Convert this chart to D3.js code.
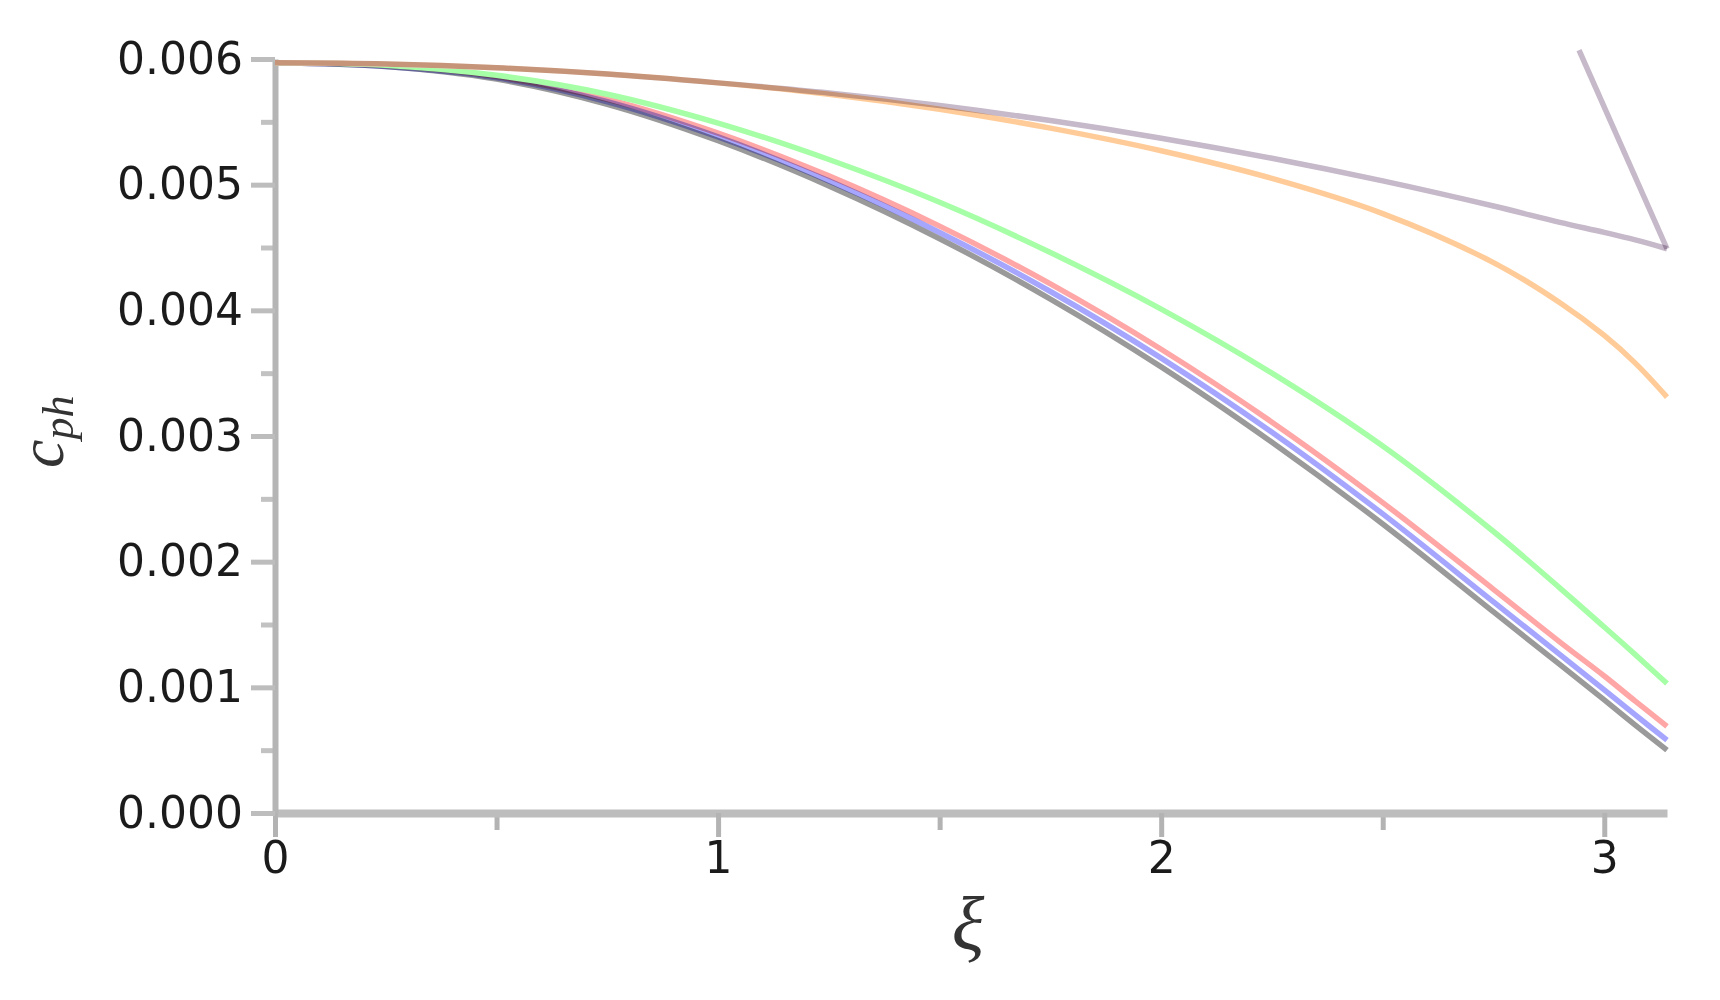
<!DOCTYPE html>
<html>
<head>
<meta charset="utf-8">
<script src="https://cdn.jsdelivr.net/npm/d3@7"></script>
<style>
  html, body { margin: 0; padding: 0; background: #ffffff; }
  svg { display: block; }
</style>
</head>
<body>
<svg id="chart" width="1720" height="1000"></svg>
<script>
// ---- data ----
const PI = Math.PI;
const xi = [0, 0.25, 0.5, 0.75, 1, 1.25, 1.5, 1.75, 2, 2.25, 2.5, 2.75, 2.9, 3, 3.07, PI];

const grayVals   = [0.00597,0.00594,0.00584,0.00564,0.00535,0.00499,0.00457,0.00409,0.00355,0.00295,0.00230,0.00160,0.00118,0.00090,0.00070,0.00050];
const blueVals   = [0.00597,0.00594,0.00585,0.00566,0.00538,0.00503,0.00462,0.00415,0.00362,0.00303,0.00238,0.00168,0.00126,0.00098,0.00078,0.00058];
const redVals    = [0.00597,0.00595,0.00586,0.00568,0.00541,0.00507,0.00467,0.00421,0.00369,0.00311,0.00247,0.00178,0.00136,0.00109,0.00089,0.00069];
const greenVals  = [0.00597,0.00595,0.00587,0.00572,0.00549,0.00520,0.00486,0.00446,0.00401,0.00350,0.00292,0.00224,0.00179,0.00148,0.00126,0.00103];
const orangeVals = [0.00597,0.00596,0.00593,0.00588,0.00581,0.00572,0.00560,0.00545,0.00527,0.00505,0.00477,0.00438,0.00406,0.00380,0.00358,0.00331];
const mauveVals  = [0.00597,0.00596,0.00593,0.00588,0.00581,0.00573,0.00563,0.00551,0.00537,0.00521,0.00503,0.00483,0.00470,0.00462,0.00456,0.00449];
// the mauve curve's closing stroke back up at the right edge
const mauveTailXi   = [PI, 2.943];
const mauveTailVals = [0.00449, 0.00607];

const seriesNames  = ["gray", "blue", "red", "green", "mauve", "orange"];
const seriesColors = ["#9a9a9a", "#a6a6ff", "#ffa6a6", "#a6ffa6", "#c6b9c9", "#ffcc99"];
const seriesVals   = [grayVals, blueVals, redVals, greenVals, mauveVals, orangeVals];
const seriesGroup  = [0, 0, 0, 1, 2, 2];   // overlap groups (lines in a group darken where they cross)

const xMajorTicks = [0, 1, 2, 3];
const xMinorTicks = [0.5, 1.5, 2.5];
const yMajorTicks = [0, 0.001, 0.002, 0.003, 0.004, 0.005, 0.006];
const yMinorTicks = [0.0005, 0.0015, 0.0025, 0.0035, 0.0045, 0.0055];
const yTickLabels = ["0.000", "0.001", "0.002", "0.003", "0.004", "0.005", "0.006"];
const xTickLabels = ["0", "1", "2", "3"];

// ---- drawing ----
const svg = d3.select("#chart");
const x = d3.scaleLinear().domain([0, PI]).range([275, 1667]);
const y = d3.scaleLinear().domain([0, 0.006]).range([813, 59]);

const tickFont = "'DejaVu Sans', Verdana, sans-serif";

// minor ticks
const gxMinor = svg.append("g").attr("transform", `translate(0,${y(0)})`)
  .call(d3.axisBottom(x).tickValues(xMinorTicks).tickFormat("").tickSize(17).tickSizeOuter(0));
gxMinor.select(".domain").remove();
gxMinor.selectAll("line").attr("stroke", "#b3b3b3").attr("stroke-width", 5);

const gyMinor = svg.append("g").attr("transform", `translate(${x(0)},0)`)
  .call(d3.axisLeft(y).tickValues(yMinorTicks).tickFormat("").tickSize(14).tickSizeOuter(0));
gyMinor.select(".domain").remove();
gyMinor.selectAll("line").attr("stroke", "#c2c2c2").attr("stroke-width", 5);

// major axes
const gx = svg.append("g").attr("transform", `translate(0,${y(0)})`)
  .call(d3.axisBottom(x).tickValues(xMajorTicks)
        .tickFormat((d, i) => xTickLabels[i]).tickSize(24).tickSizeOuter(0).tickPadding(5));
gx.select(".domain").attr("stroke", "#bdbdbd").attr("stroke-width", 8);
gx.selectAll(".tick line").attr("stroke", "#b3b3b3").attr("stroke-width", 5);
gx.selectAll(".tick text").attr("font-family", tickFont).attr("font-size", 44).attr("fill", "#1b1b1b");

const gy = svg.append("g").attr("transform", `translate(${x(0)},0)`)
  .call(d3.axisLeft(y).tickValues(yMajorTicks)
        .tickFormat((d, i) => yTickLabels[i]).tickSize(24).tickSizeOuter(0).tickPadding(8));
gy.select(".domain").attr("stroke", "#b5b5b5").attr("stroke-width", 6);
gy.selectAll(".tick line").attr("stroke", "#bdbdbd").attr("stroke-width", 5);
gy.selectAll(".tick text").attr("font-family", tickFont).attr("font-size", 44).attr("fill", "#1b1b1b");

// curves
const line = d3.line()
  .x(d => x(d[0]))
  .y(d => y(d[1]))
  .curve(d3.curveCatmullRom.alpha(0.5));
const straight = d3.line().x(d => x(d[0])).y(d => y(d[1]));

const groups = [0, 1, 2].map(() => svg.append("g").style("isolation", "isolate"));
seriesVals.forEach((vals, i) => {
  const pts = xi.map((v, k) => [v, vals[k]]);
  groups[seriesGroup[i]].append("path")
    .attr("d", line(pts))
    .attr("fill", "none")
    .attr("stroke", seriesColors[i])
    .attr("stroke-width", 5.5)
    .style("mix-blend-mode", "multiply")
    .attr("class", "series-" + seriesNames[i]);
});
groups[2].append("path")
  .attr("d", straight(mauveTailXi.map((v, k) => [v, mauveTailVals[k]])))
  .attr("fill", "none")
  .attr("stroke", seriesColors[4])
  .attr("stroke-width", 5.5)
  .style("mix-blend-mode", "multiply");

// axis titles
const yTitle = svg.append("text")
  .attr("transform", "translate(63,468) rotate(-90)")
  .attr("font-family", "'Liberation Serif', 'Times New Roman', serif")
  .attr("font-style", "italic")
  .attr("fill", "#333333");
yTitle.append("tspan").attr("font-size", 64).text("c");
yTitle.append("tspan").attr("font-size", 44).attr("dy", 10).text("ph");

svg.append("text")
  .attr("x", 968).attr("y", 950)
  .attr("text-anchor", "middle")
  .attr("font-family", "'Liberation Serif', 'Times New Roman', serif")
  .attr("font-style", "italic")
  .attr("font-size", 76)
  .attr("fill", "#333333")
  .text("ξ");
</script>
</body>
</html>
